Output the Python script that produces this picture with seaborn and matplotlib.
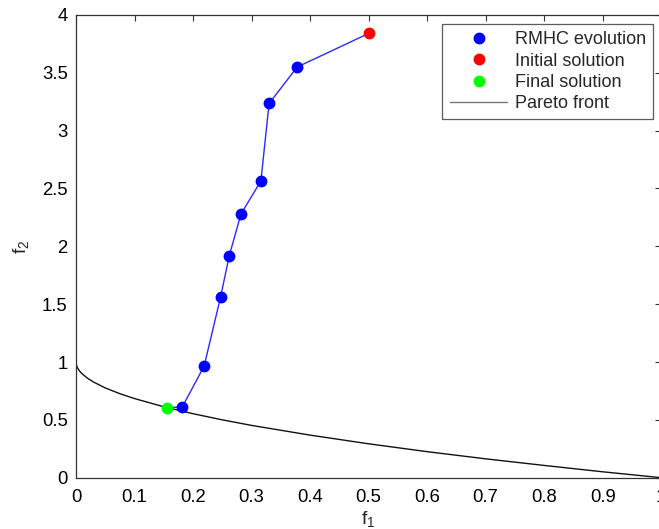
import matplotlib
matplotlib.use("Agg")
import matplotlib.pyplot as plt
import seaborn as sns
import pandas as pd

# RMHC search path in objective space (initial -> final)
path_f1 = [0.500, 0.378, 0.330, 0.316, 0.282, 0.262, 0.247, 0.219, 0.182, 0.156]
path_f2 = [3.84, 3.55, 3.235, 2.565, 2.28, 1.92, 1.56, 0.965, 0.615, 0.602]

# Pareto front samples
front_f1 = [0.0, 0.001, 0.003, 0.006, 0.01, 0.02, 0.03, 0.05, 0.075, 0.1, 0.15,
            0.2, 0.25, 0.3, 0.4, 0.5, 0.6, 0.7, 0.8, 0.9, 1.0]
front_f2 = [1.0, 0.968, 0.945, 0.923, 0.90, 0.859, 0.827, 0.776, 0.726, 0.684, 0.613,
            0.553, 0.50, 0.452, 0.368, 0.293, 0.225, 0.163, 0.106, 0.051, 0.0]

sns.set_theme(style="white")
plt.rcParams["font.family"] = ["Liberation Sans", "DejaVu Sans"]
plt.rcParams["mathtext.fontset"] = "custom"
plt.rcParams["mathtext.rm"] = "Liberation Sans"
plt.rcParams["mathtext.it"] = "Liberation Sans"

fig = plt.figure(figsize=(6.59, 5.29), dpi=100)
ax = fig.add_axes([0.1153, 0.097, 0.888, 0.8747])

path = pd.DataFrame({"f1": path_f1, "f2": path_f2})
front = pd.DataFrame({"f1": front_f1, "f2": front_f2})

sns.lineplot(data=front, x="f1", y="f2", sort=False, color="#111111", lw=1.0, ax=ax,
             label="Pareto front", zorder=2)
sns.lineplot(data=path, x="f1", y="f2", sort=False, color="#2a2aff", lw=1.0, ax=ax,
             zorder=3, legend=False)

evo = path.iloc[1:-1]
ax.plot(evo["f1"], evo["f2"], "o", color="#0000ff", ms=7.5, zorder=4, label="RMHC evolution")
ax.plot(path["f1"].iloc[:1], path["f2"].iloc[:1], "o", color="#ff0000", ms=7.5, zorder=4,
        label="Initial solution")
ax.plot(path["f1"].iloc[-1:], path["f2"].iloc[-1:], "o", color="#00ff00", ms=7.5, zorder=4,
        label="Final solution")

ax.set_xlim(0, 1)
ax.set_ylim(0, 4)
ax.set_xticks([0, 0.1, 0.2, 0.3, 0.4, 0.5, 0.6, 0.7, 0.8, 0.9, 1.0])
ax.set_xticklabels(["0", "0.1", "0.2", "0.3", "0.4", "0.5", "0.6", "0.7", "0.8", "0.9", "1"])
ax.set_yticks([0, 0.5, 1, 1.5, 2, 2.5, 3, 3.5, 4])
ax.set_yticklabels(["0", "0.5", "1", "1.5", "2", "2.5", "3", "3.5", "4"])
ax.tick_params(direction="in", length=4, width=0.8, color="#333333", labelsize=13.3,
               top=True, right=True, labelcolor="black")
ax.tick_params(axis="x", pad=8)
ax.tick_params(axis="y", pad=6)
for s in ax.spines.values():
    s.set_color("#333333")
    s.set_linewidth(0.9)

ax.set_xlabel("f$_1$", fontsize=14, labelpad=2)
ax.set_ylabel("f$_2$", fontsize=14, labelpad=8)

handles, labels = ax.get_legend_handles_labels()
order = ["RMHC evolution", "Initial solution", "Final solution", "Pareto front"]
hmap = dict(zip(labels, handles))
leg = ax.legend([hmap[k] for k in order], order, loc="upper right",
                bbox_to_anchor=(653 / 659, 1 - 24 / 529), bbox_transform=fig.transFigure,
                fontsize=13, frameon=True, fancybox=False, borderpad=0.4,
                handlelength=3.2, handletextpad=0.4, labelspacing=0.24, borderaxespad=0)
leg.get_frame().set_edgecolor("#333333")
leg.get_frame().set_linewidth(0.9)
leg.legend_handles[3].set_color("#777777")

fig.savefig("out.png", dpi=100)
